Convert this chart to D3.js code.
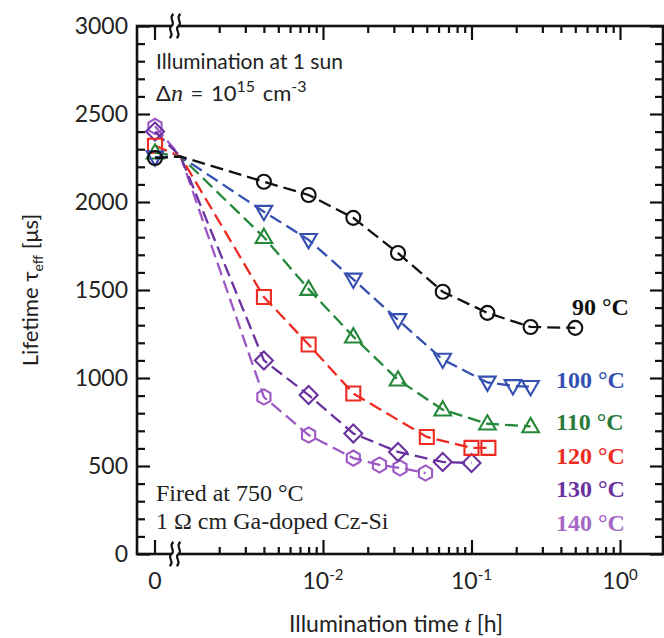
<!DOCTYPE html>
<html><head><meta charset="utf-8">
<script src="https://cdn.jsdelivr.net/npm/d3@7"></script>
<style>body{margin:0;background:#fff}svg{display:block}</style>
</head><body>
<svg id="c" width="664" height="638"></svg>
<script>
// ---- data ----
const seriesLabels = ["90 °C", "100 °C", "110 °C", "120 °C", "130 °C", "140 °C"];
const seriesColors = ["#111111", "#3550b0", "#25883a", "#ee2a22", "#6a32a0", "#9c58c4"];
const labelColors  = ["#111111", "#3550b0", "#2a7a3a", "#ee2a22", "#6a32a0", "#a468c4"];
const seriesShapes = ["circle", "triangleDown", "triangleUp", "square", "diamond", "hexagon"];
const t90   = [0, 0.004, 0.008, 0.016, 0.032, 0.064, 0.128, 0.25, 0.5];
const tau90 = [2250, 2115, 2040, 1910, 1710, 1490, 1370, 1290, 1285];
const t100   = [0, 0.004, 0.008, 0.016, 0.032, 0.064, 0.128, 0.19, 0.25];
const tau100 = [2255, 1945, 1785, 1560, 1330, 1105, 975, 955, 950];
const t110   = [0, 0.004, 0.008, 0.016, 0.032, 0.064, 0.128, 0.25];
const tau110 = [2280, 1800, 1505, 1235, 990, 820, 740, 725];
const t120   = [0, 0.004, 0.008, 0.016, 0.05, 0.1, 0.13];
const tau120 = [2320, 1460, 1190, 912, 665, 603, 603];
const t130   = [0, 0.004, 0.008, 0.016, 0.032, 0.064, 0.1];
const tau130 = [2400, 1100, 903, 685, 580, 523, 517];
const t140   = [0, 0.004, 0.008, 0.016, 0.024, 0.033, 0.049];
const tau140 = [2430, 892, 676, 545, 506, 489, 460];
const startT = 0.0011, startTau = 2258;   // common point where the dashed lines converge
const yMajorTicks = [0, 500, 1000, 1500, 2000, 2500, 3000];
const xMajorTicks = [0.01, 0.1, 1];
const xTickLabels = [["10", "-2"], ["10", "-1"], ["10", "0"]];

const times = [t90, t100, t110, t120, t130, t140];
const taus  = [tau90, tau100, tau110, tau120, tau130, tau140];

// ---- layout ----
const L = 137, R = 663, T = 26, B = 554, X0 = 155;
const svg = d3.select("#c");
svg.append("rect").attr("width", 664).attr("height", 638).attr("fill", "#fff");

const x = d3.scaleLog().domain([0.001, 1]).range([174.5, 620]);
const y = d3.scaleLinear().domain([0, 3000]).range([B, T]);
const px = t => t === 0 ? X0 : x(t);

const sansFont = "Lato, 'Open Sans', sans-serif";
const serifFont = "'Liberation Serif', 'DejaVu Serif', serif";

const yMinor = d3.range(0, 3001, 100).filter(v => v % 500 !== 0);
const xMinor = [];
[0.001, 0.01, 0.1, 1].forEach(d => { for (let k = 2; k <= 9; k++) xMinor.push(d * k); });

const axStroke = "#111", axW = 2.2;

// left axis
const gl = svg.append("g").attr("transform", `translate(${L},0)`);
gl.call(d3.axisLeft(y).tickValues(yMajorTicks).tickSize(-13).tickPadding(9).tickFormat(d3.format("d")));
gl.append("g").call(d3.axisLeft(y).tickValues(yMinor).tickSize(-8).tickFormat(""));
// right axis (ticks inward)
const gr = svg.append("g").attr("transform", `translate(${R},0)`);
gr.call(d3.axisRight(y).tickValues(yMajorTicks).tickSize(-13).tickFormat(""));
gr.append("g").call(d3.axisRight(y).tickValues(yMinor).tickSize(-8).tickFormat(""));
// bottom axis
const gb = svg.append("g").attr("transform", `translate(0,${B})`);
gb.call(d3.axisBottom(x).tickValues(xMajorTicks).tickSize(-14).tickFormat(""));
gb.append("g").call(d3.axisBottom(x).tickValues(xMinor).tickSize(-7).tickFormat(""));
// top axis
const gt = svg.append("g").attr("transform", `translate(0,${T})`);
gt.call(d3.axisTop(x).tickValues(xMajorTicks).tickSize(-14).tickFormat(""));
gt.append("g").call(d3.axisTop(x).tickValues(xMinor).tickSize(-7).tickFormat(""));

svg.selectAll(".domain").remove();
svg.selectAll(".tick line").attr("stroke", axStroke).attr("stroke-width", axW);
gl.selectAll(".tick text").attr("font-family", sansFont).attr("font-size", 23).attr("fill", "#222");

// zero tick on x
svg.append("line").attr("x1", X0).attr("x2", X0).attr("y1", B).attr("y2", B - 14).attr("stroke", axStroke).attr("stroke-width", axW);
svg.append("line").attr("x1", X0).attr("x2", X0).attr("y1", T).attr("y2", T + 14).attr("stroke", axStroke).attr("stroke-width", axW);

// frame
svg.append("rect").attr("x", L).attr("y", T).attr("width", R - L).attr("height", B - T)
  .attr("fill", "none").attr("stroke", axStroke).attr("stroke-width", 2.6);

// axis breaks
function brk(cy) {
  const g = svg.append("g").attr("transform", `translate(175,${cy})`);
  g.append("rect").attr("x", -3).attr("y", -3).attr("width", 6).attr("height", 6).attr("fill", "#fff");
  [-3.5, 3.5].forEach(dx => {
    g.append("path").attr("d", `M${dx+2},-12 C${dx-4},-8 ${dx+5},-3 ${dx},0 C${dx-5},3 ${dx+4},8 ${dx-2},12`)
      .attr("fill", "none").attr("stroke", axStroke).attr("stroke-width", 2.2);
  });
}
brk(B); brk(T);

// x tick labels
const xl = svg.append("g").attr("font-family", sansFont).attr("font-size", 23).attr("fill", "#222");
xl.append("text").attr("x", X0).attr("y", 589).attr("text-anchor", "middle").text("0");
xMajorTicks.forEach((v, i) => {
  const t = xl.append("text").attr("x", x(v)).attr("y", 589).attr("text-anchor", "middle");
  t.append("tspan").text(xTickLabels[i][0]);
  t.append("tspan").attr("font-size", 15).attr("dy", -9).text(xTickLabels[i][1]);
});

// axis titles
const xt = svg.append("text").attr("x", 396).attr("y", 632).attr("text-anchor", "middle")
  .attr("font-family", sansFont).attr("font-size", 23).attr("fill", "#222");
xt.append("tspan").text("Illumination time ");
xt.append("tspan").attr("font-family", serifFont).attr("font-style", "italic").text("t");
xt.append("tspan").text(" [h]");

const yt = svg.append("text").attr("transform", "translate(38,290) rotate(-90)").attr("text-anchor", "middle")
  .attr("font-family", sansFont).attr("font-size", 22).attr("fill", "#222");
yt.append("tspan").text("Lifetime τ");
yt.append("tspan").attr("font-size", 14).attr("dy", 5).text("eff");
yt.append("tspan").attr("dy", -5).text(" [μs]");

// ---- series ----
function shapePath(shape) {
  switch (shape) {
    case "circle": return "M7,0A7,7,0,1,1,-7,0A7,7,0,1,1,7,0Z";
    case "triangleUp": return "M0,-8.5L8.3,5.8L-8.3,5.8Z";
    case "triangleDown": return "M0,8.5L8.3,-5.8L-8.3,-5.8Z";
    case "square": return "M-7,-7H7V7H-7Z";
    case "diamond": return "M0,-9L9,0L0,9L-9,0Z";
    case "hexagon": {
      const r = 7.6;
      return d3.range(6).map(k => {
        const a = Math.PI / 3 * k - Math.PI / 2;
        return (k ? "L" : "M") + (r * Math.cos(a)).toFixed(2) + "," + (r * Math.sin(a)).toFixed(2);
      }).join("") + "Z";
    }
  }
}

const line = d3.line().x(d => px(d.t)).y(d => y(d.v));

for (let s = seriesLabels.length - 1; s >= 0; s--) {
  const pts = times[s].map((t, i) => ({ t, v: taus[s][i] }));
  const linePts = [pts[0], { t: startT, v: startTau }, ...pts.slice(1)];
  const g = svg.append("g");
  g.append("path").attr("d", line(linePts)).attr("fill", "none")
    .attr("stroke", seriesColors[s]).attr("stroke-width", 2.3).attr("stroke-dasharray", "13,6");
  g.selectAll("path.m").data(pts).join("path").attr("class", "m")
    .attr("transform", d => `translate(${px(d.t)},${y(d.v)})`)
    .attr("d", shapePath(seriesShapes[s]))
    .attr("fill", "none").attr("stroke", seriesColors[s]).attr("stroke-width", 2.1);
}

// series labels
const labelPos = [[572, 315], [556, 388], [556, 430], [556, 464], [556, 497], [556, 531]];
seriesLabels.forEach((lab, i) => {
  svg.append("text").attr("x", labelPos[i][0]).attr("y", labelPos[i][1])
    .attr("font-family", serifFont).attr("font-weight", "bold").attr("font-size", 24)
    .attr("fill", labelColors[i]).text(lab);
});

// annotations
const ann = svg.append("g").attr("font-family", sansFont).attr("font-size", 21).attr("fill", "#222");
ann.append("text").attr("x", 156).attr("y", 69).text("Illumination at 1 sun");
const a2 = ann.append("text").attr("x", 156).attr("y", 101).attr("font-size", 22).attr("word-spacing", 2);
a2.append("tspan").text("Δ");
a2.append("tspan").attr("font-family", serifFont).attr("font-style", "italic").attr("font-size", 24).text("n");
a2.append("tspan").text(" = 10");
a2.append("tspan").attr("font-size", 16).attr("dy", -9).text("15");
a2.append("tspan").attr("dy", 9).text(" cm");
a2.append("tspan").attr("font-size", 16).attr("dy", -9).text("-3");

const ann2 = svg.append("g").attr("font-family", serifFont).attr("font-size", 24).attr("fill", "#222");
ann2.append("text").attr("x", 156).attr("y", 501).text("Fired at 750 °C");
ann2.append("text").attr("x", 156).attr("y", 529).text("1 Ω cm Ga-doped Cz-Si");
</script>
</body></html>
